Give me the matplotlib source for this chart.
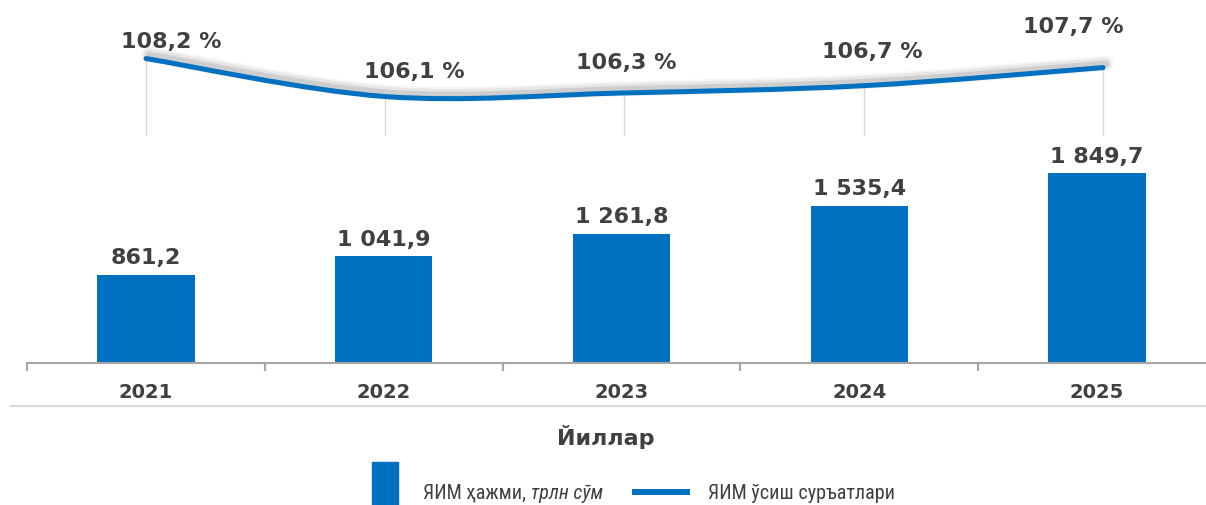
import matplotlib
matplotlib.use("Agg")
import matplotlib.pyplot as plt
import matplotlib.patheffects as pe
from matplotlib import font_manager
from matplotlib.path import Path
from matplotlib.patches import PathPatch, Rectangle
from matplotlib.lines import Line2D

# data
years = ["2021", "2022", "2023", "2024", "2025"]
gdp_volume = [861.2, 1041.9, 1261.8, 1535.4, 1849.7]   # трлн сўм
gdp_growth = [108.2, 106.1, 106.3, 106.7, 107.7]       # %

# label offsets (pixels) of the growth labels relative to their points
growth_label_offsets = [(25, 18), (29, 26), (2, 31), (9, 35), (-30, 42)]

BLUE = "#0070C0"
TEXT = "#404040"
W, H = 1206, 506

names = {f.name for f in font_manager.fontManager.ttflist}
NARROW = "Roboto"
for cand in ("Roboto Condensed", "Liberation Sans Narrow", "Open Sans Condensed"):
    if cand in names:
        NARROW = cand
        break
LEG_SIZE = 12.5 if NARROW == "Roboto" else 14.5


def px_rect(left, top, right, bottom):
    return [left / W, 1 - bottom / H, (right - left) / W, (bottom - top) / H]


def fmt_num(v):
    return f"{v:,.1f}".replace(",", " ").replace(".", ",")


fig = plt.figure(figsize=(W / 100, H / 100), dpi=100)
x = list(range(len(years)))

# --- bars ---
ax = fig.add_axes(px_rect(27, 140, 1216, 364))
ax.bar(x, gdp_volume, width=0.41, color=BLUE)
ax.set_xlim(-0.5, len(years) - 0.5)
ax.set_ylim(0, 224 / 0.1025)
for side in ("top", "left", "right"):
    ax.spines[side].set_visible(False)
ax.spines["bottom"].set_color("#a6a6a6")
ax.spines["bottom"].set_linewidth(1.5)
ax.set_yticks([])
ax.set_xticks(x)
ax.set_xticklabels(years, fontsize=14, fontweight="bold", color=TEXT)
ax.set_xticks([i - 0.5 for i in range(len(years) + 1)], minor=True)
ax.tick_params(axis="x", which="major", length=0, pad=13.5)
ax.tick_params(axis="x", which="minor", length=5.8, width=1.5, color="#a6a6a6")
for xi, v in zip(x, gdp_volume):
    ax.annotate(fmt_num(v), (xi, v), xytext=(0, 5.5), textcoords="offset points",
                ha="center", va="bottom", fontsize=16, fontweight="bold", color=TEXT)

# --- growth line ---
lx = fig.add_axes(px_rect(26.4, 0, 1222.6, 137))
lx.patch.set_alpha(0)
lx.axis("off")
lx.set_xlim(-0.5, len(years) - 0.5)
ybot = 103.92
lx.set_ylim(ybot, 111.49)
lx.vlines(x, ybot, gdp_growth, color="#d9d9d9", lw=1, zorder=1)

pts = list(zip(x, gdp_growth))
verts, codes = [pts[0]], [Path.MOVETO]
for i in range(len(pts) - 1):
    p0 = pts[max(i - 1, 0)]
    p1, p2 = pts[i], pts[i + 1]
    p3 = pts[min(i + 2, len(pts) - 1)]
    c1 = (p1[0] + (p2[0] - p0[0]) / 6, p1[1] + (p2[1] - p0[1]) / 6)
    c2 = (p2[0] - (p3[0] - p1[0]) / 6, p2[1] - (p3[1] - p1[1]) / 6)
    verts += [c1, c2, p2]
    codes += [Path.CURVE4] * 3
curve = PathPatch(Path(verts, codes), fill=False, edgecolor=BLUE, lw=3.6,
                  capstyle="round", zorder=3)
curve.set_path_effects([
    pe.Stroke(offset=(2, 3), linewidth=11, foreground="#000000", alpha=0.04),
    pe.Stroke(offset=(2, 3), linewidth=8, foreground="#000000", alpha=0.06),
    pe.Stroke(offset=(2, 2.5), linewidth=5, foreground="#000000", alpha=0.1),
    pe.Normal(),
])
lx.add_patch(curve)
for xi, v, off in zip(x, gdp_growth, growth_label_offsets):
    lx.annotate(f"{v:.1f} %".replace(".", ","), (xi, v), xytext=off,
                textcoords="offset pixels", ha="center", va="center",
                fontsize=16, fontweight="bold", color=TEXT)

# --- separator, axis title, legend ---
fig.add_artist(Line2D([11 / W, 1], [1 - 407 / H] * 2, color="#d9d9d9", lw=1.5))
fig.text(606 / W, 1 - 437 / H, "Йиллар", ha="center", va="center",
         fontsize=16, fontweight="bold", color=TEXT)

fig.add_artist(Rectangle((372 / W, 1 - 512 / H), 26 / W, 49 / H,
                         color=BLUE, transform=fig.transFigure))
leg_font = [NARROW, "DejaVu Sans"]
t1 = fig.text(423 / W, 1 - 499 / H, "ЯИМ ҳажми, ", ha="left", va="baseline",
              fontsize=LEG_SIZE, family=leg_font, color=TEXT)
ax.annotate("трлн сўм", xy=(1, 0), xycoords=t1, ha="left", va="bottom",
            fontsize=LEG_SIZE, family=leg_font, style="italic", color=TEXT,
            annotation_clip=False)
fig.add_artist(Line2D([635 / W, 687 / W], [1 - 493 / H] * 2, color=BLUE, lw=4.3))
fig.text(708 / W, 1 - 499 / H, "ЯИМ ўсиш суръатлари", ha="left", va="baseline",
         fontsize=LEG_SIZE, family=leg_font, color=TEXT)

fig.savefig("out.png", dpi=100)
